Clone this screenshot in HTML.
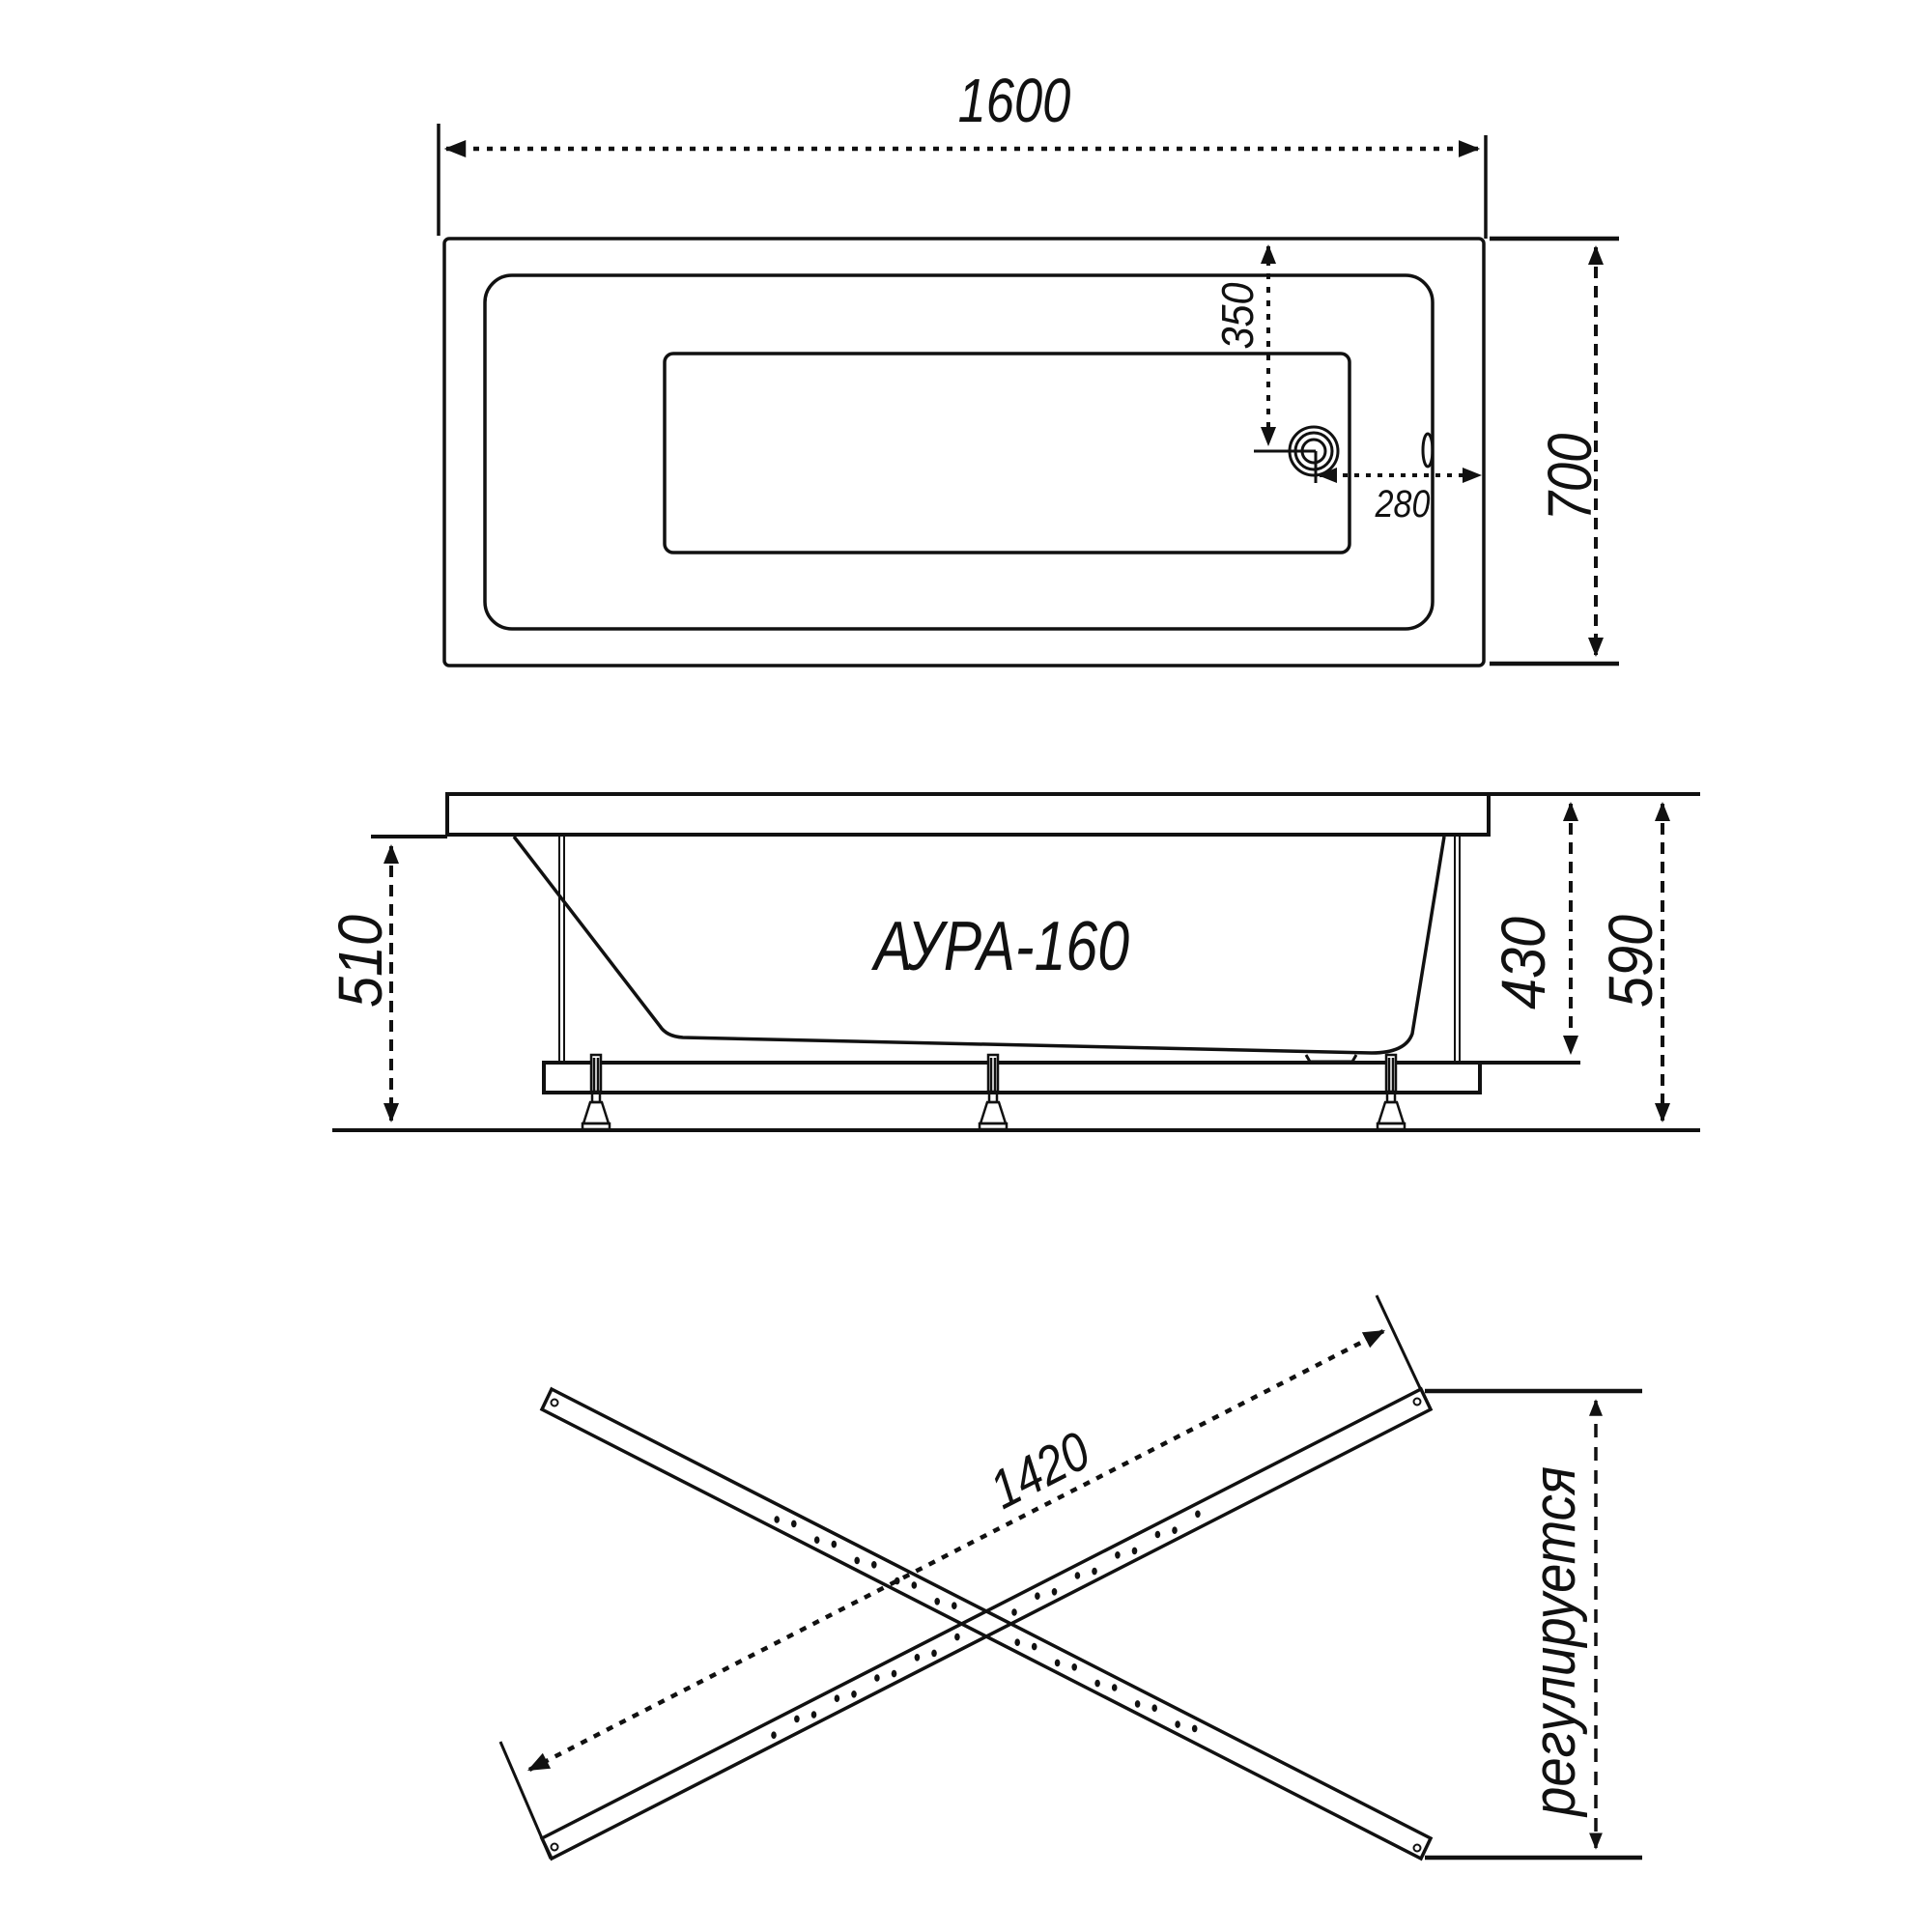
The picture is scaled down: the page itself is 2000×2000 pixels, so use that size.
<!DOCTYPE html>
<html><head><meta charset="utf-8"><style>
html,body{margin:0;padding:0;background:#fff}
svg{display:block}
text{font-family:"Liberation Sans","DejaVu Sans",sans-serif;font-style:italic;fill:#111}
</style></head><body>
<svg id="s" width="2000" height="2000" viewBox="0 0 2000 2000" xmlns="http://www.w3.org/2000/svg">
<defs>
<marker id="ar" viewBox="0 0 10 10" refX="9" refY="5" markerWidth="5" markerHeight="5" orient="auto-start-reverse" markerUnits="strokeWidth">
<path d="M0,1 L10,5 L0,9 z" fill="#111"/></marker>
</defs>
<g fill="none" stroke="#111" stroke-width="3.5">
<line x1="454" y1="128" x2="454" y2="244"/>
<line x1="1538" y1="140" x2="1538" y2="247"/>
<line x1="462" y1="154" x2="1530" y2="154" stroke-dasharray="6 8" stroke-width="4.5" marker-start="url(#ar)" marker-end="url(#ar)"/>
<rect x="460" y="247" width="1076" height="442" rx="5"/>
<rect x="502" y="285" width="981" height="366" rx="28"/>
<rect x="688" y="366" width="709" height="206" rx="9"/>
<circle cx="1360" cy="467" r="25" stroke-width="3"/>
<circle cx="1360" cy="467" r="19" stroke-width="3"/>
<circle cx="1360" cy="467" r="12" stroke-width="3"/>
<line x1="1298" y1="467" x2="1362" y2="467" stroke-width="3"/>
<line x1="1362" y1="467" x2="1362" y2="500" stroke-width="3"/>
<ellipse cx="1478" cy="466" rx="5" ry="17" stroke-width="3"/>
<line x1="1313" y1="255" x2="1313" y2="460" stroke-dasharray="6 8" stroke-width="4" marker-start="url(#ar)" marker-end="url(#ar)"/>
<line x1="1366" y1="492" x2="1532" y2="492" stroke-dasharray="5 7" stroke-width="4" marker-start="url(#ar)" marker-end="url(#ar)"/>
<line x1="1542" y1="247" x2="1676" y2="247" stroke-width="4.5"/>
<line x1="1542" y1="687" x2="1676" y2="687" stroke-width="4.5"/>
<line x1="1652" y1="256" x2="1652" y2="678" stroke-dasharray="12 8" stroke-width="4" marker-start="url(#ar)" marker-end="url(#ar)"/>

<rect x="463" y="822" width="1078" height="42" stroke-width="4"/>
<line x1="384" y1="866" x2="463" y2="866" stroke-width="4"/>
<line x1="1541" y1="822" x2="1760" y2="822" stroke-width="4"/>
<line x1="344" y1="1170" x2="1760" y2="1170" stroke-width="4"/>
<line x1="1532" y1="1100" x2="1636" y2="1100" stroke-width="4"/>
<path d="M532,866 L683,1062 Q690,1073 707,1074 L1420,1090 Q1455,1090 1462,1070 L1495,866" stroke-width="3.5"/>
<path d="M1352,1092 L1356,1099 L1400,1099 L1404,1092" stroke-width="3"/>
<line x1="579" y1="866" x2="579" y2="1100" stroke-width="2"/><line x1="584" y1="866" x2="584" y2="1100" stroke-width="2"/>
<line x1="1506" y1="866" x2="1506" y2="1100" stroke-width="2"/><line x1="1511" y1="866" x2="1511" y2="1100" stroke-width="2"/>
<rect x="563" y="1100" width="969" height="31" stroke-width="4"/>
<line x1="405" y1="876" x2="405" y2="1160" stroke-dasharray="12 8" stroke-width="4" marker-start="url(#ar)" marker-end="url(#ar)"/>
<line x1="1626" y1="832" x2="1626" y2="1090" stroke-dasharray="12 8" stroke-width="4" marker-start="url(#ar)" marker-end="url(#ar)"/>
<line x1="1721" y1="832" x2="1721" y2="1160" stroke-dasharray="12 8" stroke-width="4" marker-start="url(#ar)" marker-end="url(#ar)"/>
<g stroke-width="2.5" id="legs"></g>

<polygon points="571,1438 1481,1903 1471,1924 561,1459"/>
<polygon points="561,1903 1471,1438 1481,1459 571,1924"/>
<line x1="1425" y1="1341" x2="1471" y2="1439" stroke-width="3"/>
<line x1="518" y1="1803" x2="570" y2="1924" stroke-width="3"/>
<line x1="548" y1="1832" x2="1432" y2="1378" stroke-dasharray="7 8" stroke-width="4.5" marker-start="url(#ar)" marker-end="url(#ar)"/>
<line x1="1475" y1="1440" x2="1700" y2="1440" stroke-width="4.5"/>
<line x1="1475" y1="1923" x2="1700" y2="1923" stroke-width="4.5"/>
<line x1="1652" y1="1450" x2="1652" y2="1913" stroke-dasharray="14 10" stroke-width="3.5" marker-start="url(#ar)" marker-end="url(#ar)"/>
<circle cx="574" cy="1452" r="3.5" stroke-width="2"/>
<circle cx="1467" cy="1913" r="3.5" stroke-width="2"/>
<circle cx="574" cy="1912" r="3.5" stroke-width="2"/>
<circle cx="1467" cy="1451" r="3.5" stroke-width="2"/>
</g>
<g id="dots" fill="#111"></g>

<text transform="translate(1050,126) scale(0.82,1)" font-size="64" text-anchor="middle">1600</text>
<text transform="translate(1297,327) rotate(-90) scale(0.9,1)" font-size="46" text-anchor="middle">350</text>
<text transform="translate(1452,535) scale(0.85,1)" font-size="40" text-anchor="middle">280</text>
<text transform="translate(1647,494) rotate(-90) scale(0.85,1)" font-size="64" text-anchor="middle">700</text>
<text transform="translate(1037,1004) scale(0.82,1)" font-size="72" text-anchor="middle">АУРА-160</text>
<text transform="translate(395,995) rotate(-90) scale(0.9,1)" font-size="64" text-anchor="middle">510</text>
<text transform="translate(1599,997) rotate(-90) scale(0.9,1)" font-size="64" text-anchor="middle">430</text>
<text transform="translate(1710,995) rotate(-90) scale(0.9,1)" font-size="64" text-anchor="middle">590</text>
<text transform="translate(1085,1539) rotate(-27) scale(0.85,1)" font-size="56" text-anchor="middle">1420</text>
<text transform="translate(1630,1699) rotate(-90) scale(0.88,1)" font-size="62" text-anchor="middle">регулируется</text>
</svg>
<script>
var legs=document.getElementById("legs");
[617,1028,1440].forEach(function(x){
 var h='<rect x="'+(x-5)+'" y="1092" width="10" height="38" fill="#fff"/>'+
 '<line x1="'+(x-2)+'" y1="1095" x2="'+(x-2)+'" y2="1130"/><line x1="'+(x+2)+'" y1="1095" x2="'+(x+2)+'" y2="1130"/>'+
 '<rect x="'+(x-4)+'" y="1131" width="8" height="10"/>'+
 '<path d="M'+(x-6)+',1141 L'+(x+6)+',1141 L'+(x+13)+',1163 L'+(x-13)+',1163 z"/>'+
 '<rect x="'+(x-14)+'" y="1163" width="28" height="6"/>';
 legs.insertAdjacentHTML("beforeend",h);
});
var d=document.getElementById("dots"),s="";
function bar(ax,ay,bx,by,nx,ny){
 for(var i=0;i<22;i++){
  var t=0.26+i*0.0228;
  if(t>0.47&&t<0.53)continue;
  var x=ax+(bx-ax)*t,y=ay+(by-ay)*t;
  var o=(i%2)?-3.5:3.5;
  s+='<ellipse cx="'+(x+nx*o).toFixed(1)+'" cy="'+(y+ny*o).toFixed(1)+'" rx="2.8" ry="3.8"/>';
 }
}
bar(566,1449,1476,1914,0.45,0.89);
bar(566,1914,1476,1449,-0.45,0.89);
d.innerHTML=s;
</script>
</body></html>
